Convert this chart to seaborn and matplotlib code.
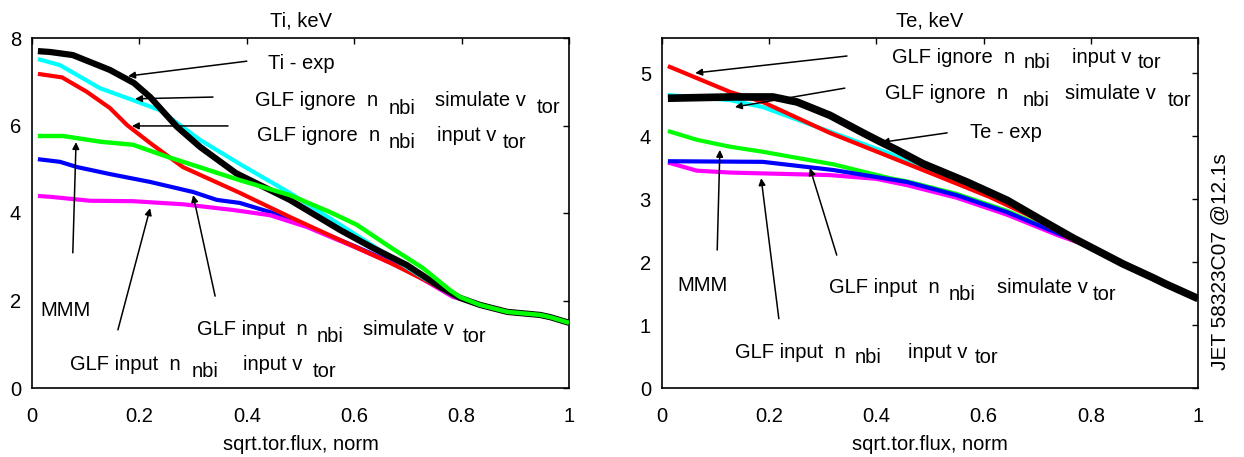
import numpy as np
import pandas as pd
import seaborn as sns
import matplotlib.pyplot as plt

# Ti profiles (keV) vs sqrt of normalised toroidal flux
ti_exp_x = [0.011, 0.034, 0.076, 0.145, 0.19, 0.22, 0.27, 0.313, 0.38, 0.48, 0.574, 0.635, 0.698, 0.76, 0.797, 0.834, 0.885, 0.946, 0.965, 1.0]
ti_exp = [7.70, 7.68, 7.61, 7.27, 6.97, 6.65, 5.97, 5.51, 4.91, 4.30, 3.61, 3.20, 2.81, 2.31, 2.06, 1.90, 1.74, 1.67, 1.62, 1.49]
ti_ign_sim_x = [0.011, 0.052, 0.127, 0.188, 0.238, 0.313, 0.387, 0.48, 0.574, 0.667, 0.735, 0.784, 0.797]
ti_ign_sim = [7.52, 7.38, 6.85, 6.58, 6.35, 5.67, 5.12, 4.46, 3.73, 3.00, 2.47, 2.17, 2.06]
ti_ign_inp_x = [0.011, 0.056, 0.102, 0.145, 0.177, 0.22, 0.281, 0.387, 0.48, 0.574, 0.667, 0.76, 0.797]
ti_ign_inp = [7.18, 7.10, 6.77, 6.40, 6.01, 5.60, 5.05, 4.46, 3.91, 3.38, 2.86, 2.29, 2.06]
ti_mmm_x = [0.011, 0.058, 0.127, 0.188, 0.251, 0.387, 0.48, 0.555, 0.605, 0.667, 0.728, 0.778, 0.797, 0.834, 0.885, 0.946, 0.965, 1.0]
ti_mmm = [5.76, 5.76, 5.63, 5.56, 5.29, 4.75, 4.41, 4.02, 3.73, 3.22, 2.74, 2.24, 2.08, 1.90, 1.74, 1.67, 1.62, 1.49]
ti_inp_sim_x = [0.011, 0.052, 0.084, 0.145, 0.22, 0.30, 0.344, 0.387, 0.449, 0.512, 0.605, 0.698, 0.784, 0.797]
ti_inp_sim = [5.23, 5.17, 5.05, 4.89, 4.71, 4.48, 4.30, 4.23, 4.00, 3.70, 3.22, 2.72, 2.10, 2.06]
ti_inp_inp_x = [0.011, 0.034, 0.108, 0.188, 0.281, 0.374, 0.443, 0.512, 0.605, 0.698, 0.784, 0.797]
ti_inp_inp = [4.39, 4.37, 4.28, 4.27, 4.20, 4.07, 3.95, 3.68, 3.20, 2.70, 2.08, 2.04]

# Te profiles (keV)
te_exp_x = [0.011, 0.127, 0.207, 0.252, 0.313, 0.375, 0.407, 0.438, 0.487, 0.569, 0.644, 0.705, 0.767, 0.817, 0.86, 0.916, 0.94, 1.0]
te_exp = [4.60, 4.62, 4.62, 4.54, 4.33, 4.05, 3.91, 3.78, 3.56, 3.27, 2.98, 2.68, 2.38, 2.16, 1.97, 1.75, 1.65, 1.42]
te_ign_sim_x = [0.011, 0.127, 0.188, 0.313, 0.425, 0.519, 0.612, 0.692, 0.767, 0.79]
te_ign_sim = [4.65, 4.57, 4.46, 4.07, 3.72, 3.38, 3.06, 2.74, 2.37, 2.27]
te_ign_inp_x = [0.011, 0.127, 0.188, 0.313, 0.425, 0.519, 0.612, 0.692, 0.767, 0.79]
te_ign_inp = [5.11, 4.70, 4.54, 4.05, 3.67, 3.35, 3.03, 2.71, 2.35, 2.27]
te_mmm_x = [0.011, 0.065, 0.127, 0.188, 0.32, 0.425, 0.457, 0.55, 0.644, 0.737, 0.79]
te_mmm = [4.08, 3.94, 3.83, 3.75, 3.55, 3.33, 3.28, 3.08, 2.81, 2.47, 2.28]
te_inp_sim_x = [0.011, 0.188, 0.32, 0.457, 0.55, 0.644, 0.737, 0.786]
te_inp_sim = [3.60, 3.59, 3.46, 3.27, 3.06, 2.79, 2.46, 2.30]
te_inp_inp_x = [0.011, 0.065, 0.127, 0.313, 0.40, 0.457, 0.55, 0.644, 0.737, 0.79]
te_inp_inp = [3.58, 3.45, 3.42, 3.38, 3.32, 3.22, 3.02, 2.75, 2.43, 2.27]

xticks = [0, 0.2, 0.4, 0.6, 0.8, 1]
xticklabels = ['0', '0.2', '0.4', '0.6', '0.8', '1']

sns.set_style('white')
plt.rcParams['font.family'] = ['Liberation Sans', 'DejaVu Sans']
plt.rcParams['text.color'] = 'black'
plt.rcParams['axes.labelcolor'] = 'black'
plt.rcParams['xtick.color'] = 'black'
plt.rcParams['ytick.color'] = 'black'

FS = 14.5
fig = plt.figure(figsize=(12.44, 4.57), dpi=100)
ax1 = fig.add_axes([32 / 1244, 1 - 388 / 457, 537 / 1244, 350 / 457])
ax2 = fig.add_axes([662 / 1244, 1 - 388 / 457, 536 / 1244, 350 / 457])


def curve(ax, x, y, color, lw, z):
    sns.lineplot(x=x, y=y, color=color, lw=lw, ax=ax, sort=False,
                 estimator=None, zorder=z, solid_capstyle='butt')


# Ti panel
curve(ax1, ti_inp_sim_x, ti_inp_sim, 'blue', 3, 2)
curve(ax1, ti_inp_inp_x, ti_inp_inp, 'magenta', 3, 3)
curve(ax1, ti_ign_inp_x, ti_ign_inp, 'red', 3, 4)
curve(ax1, ti_ign_sim_x, ti_ign_sim, 'cyan', 3, 5)
curve(ax1, ti_exp_x, ti_exp, 'black', 4.5, 6)
curve(ax1, ti_mmm_x, ti_mmm, '#00ff00', 3.2, 7)

# Te panel
curve(ax2, te_inp_inp_x, te_inp_inp, 'magenta', 3, 2)
curve(ax2, te_mmm_x, te_mmm, '#00ff00', 3, 3)
curve(ax2, te_inp_sim_x, te_inp_sim, 'blue', 3, 4)
curve(ax2, te_ign_sim_x, te_ign_sim, 'cyan', 3, 5)
curve(ax2, te_ign_inp_x, te_ign_inp, 'red', 3, 6)
curve(ax2, te_exp_x, te_exp, 'black', 5.5, 7)


def words(ax, pieces):
    for x, y, s in pieces:
        ax.text(x, y, s, ha='left', va='center', fontsize=FS, zorder=10,
                color='black')


def arrow(ax, tail, tip):
    ax.annotate('', xy=tip, xytext=tail, zorder=10,
                arrowprops=dict(arrowstyle='-|>', color='black', lw=1.1,
                                shrinkA=0, shrinkB=0, mutation_scale=10))


# Ti labels
words(ax1, [(0.439, 7.41, 'Ti - exp')])
arrow(ax1, (0.400, 7.47), (0.179, 7.13))
words(ax1, [(0.415, 6.58, 'GLF ignore  n'), (0.665, 6.40, 'nbi'),
            (0.750, 6.58, 'simulate v'), (0.940, 6.42, 'tor')])
arrow(ax1, (0.337, 6.65), (0.192, 6.61))
words(ax1, [(0.419, 5.78, 'GLF ignore  n'), (0.665, 5.62, 'nbi'),
            (0.754, 5.78, 'input v'), (0.877, 5.62, 'tor')])
arrow(ax1, (0.365, 5.99), (0.186, 5.99))
words(ax1, [(0.015, 1.78, 'MMM')])
arrow(ax1, (0.076, 3.09), (0.082, 5.62))
words(ax1, [(0.071, 0.53, 'GLF input  n'), (0.298, 0.37, 'nbi'),
            (0.393, 0.53, 'input v'), (0.523, 0.37, 'tor')])
arrow(ax1, (0.160, 1.33), (0.220, 4.11))
words(ax1, [(0.307, 1.33, 'GLF input  n'), (0.531, 1.17, 'nbi'),
            (0.616, 1.33, 'simulate v'), (0.803, 1.17, 'tor')])
arrow(ax1, (0.341, 2.10), (0.300, 4.41))

# Te labels
words(ax2, [(0.429, 5.25, 'GLF ignore  n'), (0.674, 5.16, 'nbi'),
            (0.765, 5.25, 'input v'), (0.888, 5.16, 'tor')])
arrow(ax2, (0.345, 5.27), (0.062, 5.00))
words(ax2, [(0.416, 4.68, 'GLF ignore  n'), (0.672, 4.57, 'nbi'),
            (0.752, 4.68, 'simulate v'), (0.944, 4.57, 'tor')])
arrow(ax2, (0.341, 4.76), (0.136, 4.46))
words(ax2, [(0.575, 4.05, 'Te - exp')])
arrow(ax2, (0.532, 4.05), (0.410, 3.90))
words(ax2, [(0.028, 1.63, 'MMM')])
arrow(ax2, (0.103, 2.19), (0.108, 3.78))
words(ax2, [(0.136, 0.57, 'GLF input  n'), (0.360, 0.48, 'nbi'),
            (0.459, 0.57, 'input v'), (0.584, 0.49, 'tor')])
arrow(ax2, (0.218, 1.10), (0.185, 3.33))
words(ax2, [(0.312, 1.59, 'GLF input  n'), (0.534, 1.48, 'nbi'),
            (0.625, 1.59, 'simulate v'), (0.804, 1.48, 'tor')])
arrow(ax2, (0.326, 2.11), (0.276, 3.49))

for ax, title, top, yt in [(ax1, 'Ti, keV', 8, [0, 2, 4, 6, 8]),
                           (ax2, 'Te, keV', 5.556, [0, 1, 2, 3, 4, 5])]:
    ax.set_xlim(0, 1)
    ax.set_ylim(0, top)
    ax.set_xticks(xticks)
    ax.set_xticklabels(xticklabels)
    ax.set_yticks(yt)
    ax.set_title(title, fontsize=FS, pad=8, color='black')
    ax.set_xlabel('sqrt.tor.flux, norm', fontsize=FS, labelpad=6)
    ax.set_ylabel('')
    ax.tick_params(direction='in', top=True, right=True, length=4, width=1,
                   labelsize=FS, colors='black')
    ax.tick_params(axis='x', pad=14)
    ax.tick_params(axis='y', pad=8)
    for sp in ax.spines.values():
        sp.set_visible(True)
        sp.set_color('black')
        sp.set_linewidth(1.2)

fig.text(1220 / 1244, 1 - 262 / 457, 'JET 58323C07 @12.1s', rotation=90,
         ha='center', va='center', fontsize=15, color='black')

plt.savefig('out.png', dpi=100)
